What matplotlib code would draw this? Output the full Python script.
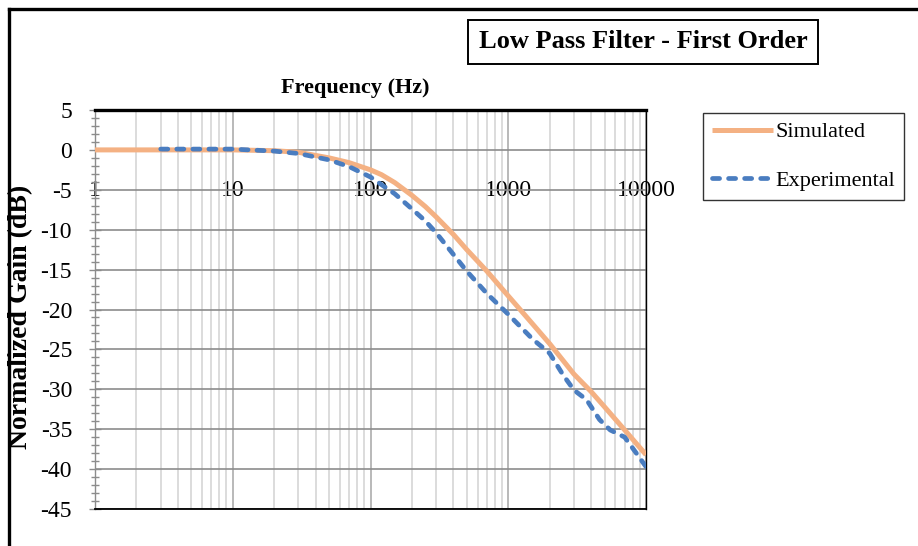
import matplotlib
matplotlib.use("Agg")
import matplotlib.pyplot as plt
import matplotlib.ticker as mticker
from matplotlib.lines import Line2D
import numpy as np

# data
sim_freq = [1, 10, 20, 30, 50, 70, 100, 120, 150, 200, 250, 300, 400, 500, 700,
            1000, 1400, 2000, 3000, 4000, 5000, 7000, 10000]
sim_gain = [0.0, 0.0, -0.1, -0.3, -1.0, -1.6, -2.5, -3.1, -4.1, -5.7, -7.1, -8.4, -10.6, -12.5, -15.2,
            -18.3, -21.2, -24.3, -28.1, -30.3, -32.2, -35.1, -38.2]

exp_freq = [3, 5, 10, 20, 30, 50, 70, 100, 150, 200, 250, 300, 500, 700,
            1000, 1500, 2000, 2500, 3000, 3700, 4600, 5500, 7000, 8500, 10000]
exp_gain = [0.1, 0.1, 0.1, -0.15, -0.45, -1.25, -2.1, -3.4, -5.5, -7.4, -8.9, -10.4, -15.2, -18.0,
            -20.6, -23.7, -25.5, -28.2, -30.1, -31.3, -33.8, -35.1, -36.0, -38.0, -39.7]

x_ticks = [1, 10, 100, 1000, 10000]
x_tick_labels = ["1", "10", "100", "1000", "10000"]
y_ticks = list(range(5, -50, -5))

title = "Low Pass Filter - First Order"
x_title = "Frequency (Hz)"
y_title = "Normalized Gain (dB)"
series_names = ["Simulated", "Experimental"]

SERIF = "Liberation Serif"
plt.rcParams["font.family"] = [SERIF, "DejaVu Serif"]

fig = plt.figure(figsize=(9.18, 5.46), dpi=100)
ax = fig.add_axes([95 / 918, 1 - 509 / 546, 551 / 918, 399 / 546])

ax.set_xscale("log")
ax.set_xlim(1, 10000)
ax.set_ylim(-45, 5)

# grid
ax.xaxis.set_minor_locator(mticker.LogLocator(base=10, subs=np.arange(2, 10)))
ax.xaxis.set_minor_formatter(mticker.NullFormatter())
ax.grid(True, which="major", axis="x", color="#a6a6a6", lw=1.1)
ax.grid(True, which="minor", axis="x", color="#d2d2d2", lw=1.1)
ax.grid(True, which="major", axis="y", color="#8c8c8c", lw=1.2)
ax.set_axisbelow(True)

# y axis
ax.set_yticks(y_ticks)
ax.set_yticklabels([str(v) for v in y_ticks])
ax.yaxis.set_minor_locator(mticker.MultipleLocator(1))
ax.tick_params(axis="y", which="major", direction="inout", length=9, width=1,
               color="#8c8c8c", pad=12, labelsize=17)
ax.tick_params(axis="y", which="minor", direction="inout", length=6, width=1,
               color="#8c8c8c")

# x axis labels sit on the -5 dB line
ax.set_xticks(x_ticks)
ax.set_xticklabels(x_tick_labels)
ax.spines["bottom"].set_position(("data", -5))
ax.spines["bottom"].set_visible(False)
ax.tick_params(axis="x", which="both", length=0, pad=-7, labelsize=17)

ax.spines["top"].set_color("black")
ax.spines["top"].set_linewidth(2.4)
ax.spines["right"].set_color("black")
ax.spines["right"].set_linewidth(1.0)
ax.spines["left"].set_color("#8c8c8c")
ax.spines["left"].set_linewidth(1.0)
ax.axhline(-45, color="black", lw=1.3, clip_on=False, zorder=3)

# series
ax.plot(sim_freq, sim_gain, color="#F4B183", lw=3.6, solid_capstyle="butt",
        solid_joinstyle="round", label=series_names[0], zorder=4)
ax.plot(exp_freq, exp_gain, color="#4A7DC0", lw=3.4, dashes=(1.5, 1.9),
        dash_capstyle="round", dash_joinstyle="round",
        label=series_names[1], zorder=5)

leg = ax.legend(loc="upper left", bbox_to_anchor=(703 / 918, 1 - 113 / 546),
                bbox_transform=fig.transFigure, frameon=True, fancybox=False,
                edgecolor="black", fontsize=16, handlelength=2.75,
                handletextpad=0.1, labelspacing=1.25, borderpad=0.4,
                borderaxespad=0)
leg.get_frame().set_linewidth(1.0)

# titles
fig.text(643 / 918, 1 - 42 / 546, title, ha="center", va="center",
         fontsize=19, fontweight="bold",
         bbox=dict(boxstyle="square,pad=0.4", facecolor="white",
                   edgecolor="black", lw=1.4))
fig.text(355 / 918, 1 - 88 / 546, x_title, ha="center", va="center",
         fontsize=16, fontweight="bold")
fig.text(21 / 918, 1 - 317 / 546, y_title, ha="center", va="center",
         rotation=90, fontsize=20, fontweight="bold")

# outer frame of the original graphic (top and left edges)
fig.add_artist(Line2D([9 / 918, 1], [1 - 9 / 546, 1 - 9 / 546],
                      transform=fig.transFigure, color="black", lw=2.4))
fig.add_artist(Line2D([9 / 918, 9 / 918], [0, 1 - 9 / 546],
                      transform=fig.transFigure, color="black", lw=2.4))

fig.savefig("out.png", dpi=100)
